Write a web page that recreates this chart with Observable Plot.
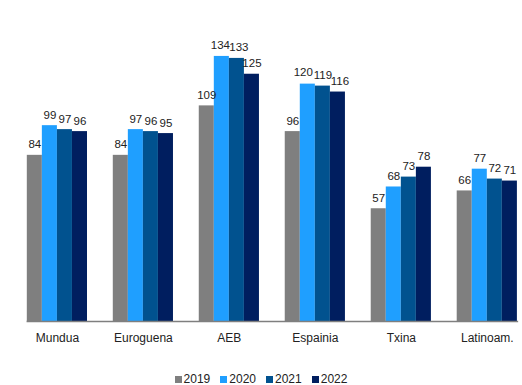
<!DOCTYPE html>
<html>
<head>
<meta charset="utf-8">
<script src="https://cdn.jsdelivr.net/npm/d3@7"></script>
<script src="https://cdn.jsdelivr.net/npm/@observablehq/plot@0.6"></script>
<style>
  html, body { margin: 0; padding: 0; background: #fff; overflow: hidden; }
  body { width: 522px; height: 385px; font-family: "Liberation Sans", Arial, sans-serif; }
  #legend { display: flex; justify-content: center; gap: 10px; font-size: 12px; color: #222; margin-top: 17px; line-height: 14px; }
  #legend span.item { display: flex; align-items: center; }
  #legend span.sw { display: inline-block; width: 7px; height: 7px; margin-right: 2px; }
</style>
</head>
<body>
<div id="chart"></div>
<div id="legend"></div>
<script>
const categories = ["Mundua", "Euroguena", "AEB", "Espainia", "Txina", "Latinoam."];
const years = ["2019", "2020", "2021", "2022"];
const values2019 = [84, 84, 109, 96, 57, 66];
const values2020 = [99, 97, 134, 120, 68, 77];
const values2021 = [97, 96, 133, 119, 73, 72];
const values2022 = [96, 95, 125, 116, 78, 71];
const colors = ["#7f7f7f", "#1f9fff", "#01528f", "#001e5f"];

const series = [values2019, values2020, values2021, values2022];
const data = [];
categories.forEach((c, i) => {
  years.forEach((y, j) => data.push({category: c, year: y, value: series[j][i]}));
});

const is = (c, y) => d => d.category === c && d.year === y;
const nudged = [is("AEB", "2020"), is("AEB", "2021"), is("Espainia", "2020"), is("Espainia", "2022")];
const labelOpts = {fx: "category", x: "year", y: "value", text: d => String(d.value), lineAnchor: "bottom", dy: -7, fill: "#222", fontSize: 11.5};

const chart = Plot.plot({
  width: 522,
  height: 355,
  marginLeft: 13,
  marginRight: 0,
  marginTop: 4.5,
  marginBottom: 34,
  style: {fontFamily: "'Liberation Sans', Arial, sans-serif", fontSize: "12px", color: "#222", background: "#fff"},
  fx: {domain: categories, round: false, paddingInner: 0.3, paddingOuter: 0.11, align: 0.73, label: null},
  x: {domain: years, round: false, padding: 0, axis: null},
  y: {domain: [0, 160], axis: null},
  color: {domain: years, range: colors},
  marks: [
    Plot.barY(data, {fx: "category", x: "year", y: "value", fill: "year"}),
    Plot.text(data, {...labelOpts, filter: d => !nudged.some(f => f(d))}),
    Plot.text(data, {...labelOpts, filter: nudged[0], dx: -1.5}),
    Plot.text(data, {...labelOpts, filter: nudged[1], dx: 2}),
    Plot.text(data, {...labelOpts, filter: nudged[2], dx: -4.5, dy: -8}),
    Plot.text(data, {...labelOpts, filter: nudged[3], dx: 2}),
    Plot.frame({facet: "super", anchor: "bottom", stroke: "#7f7f7f", strokeWidth: 1.5}),
    Plot.axisFx({anchor: "bottom", tickSize: 0, tickPadding: 12, fontSize: 12, fill: "#222", label: null})
  ]
});
document.getElementById("chart").appendChild(chart);

const legend = document.getElementById("legend");
years.forEach((y, j) => {
  const item = document.createElement("span");
  item.className = "item";
  const sw = document.createElement("span");
  sw.className = "sw";
  sw.style.background = colors[j];
  item.appendChild(sw);
  item.appendChild(document.createTextNode(y));
  legend.appendChild(item);
});
</script>
</body>
</html>
